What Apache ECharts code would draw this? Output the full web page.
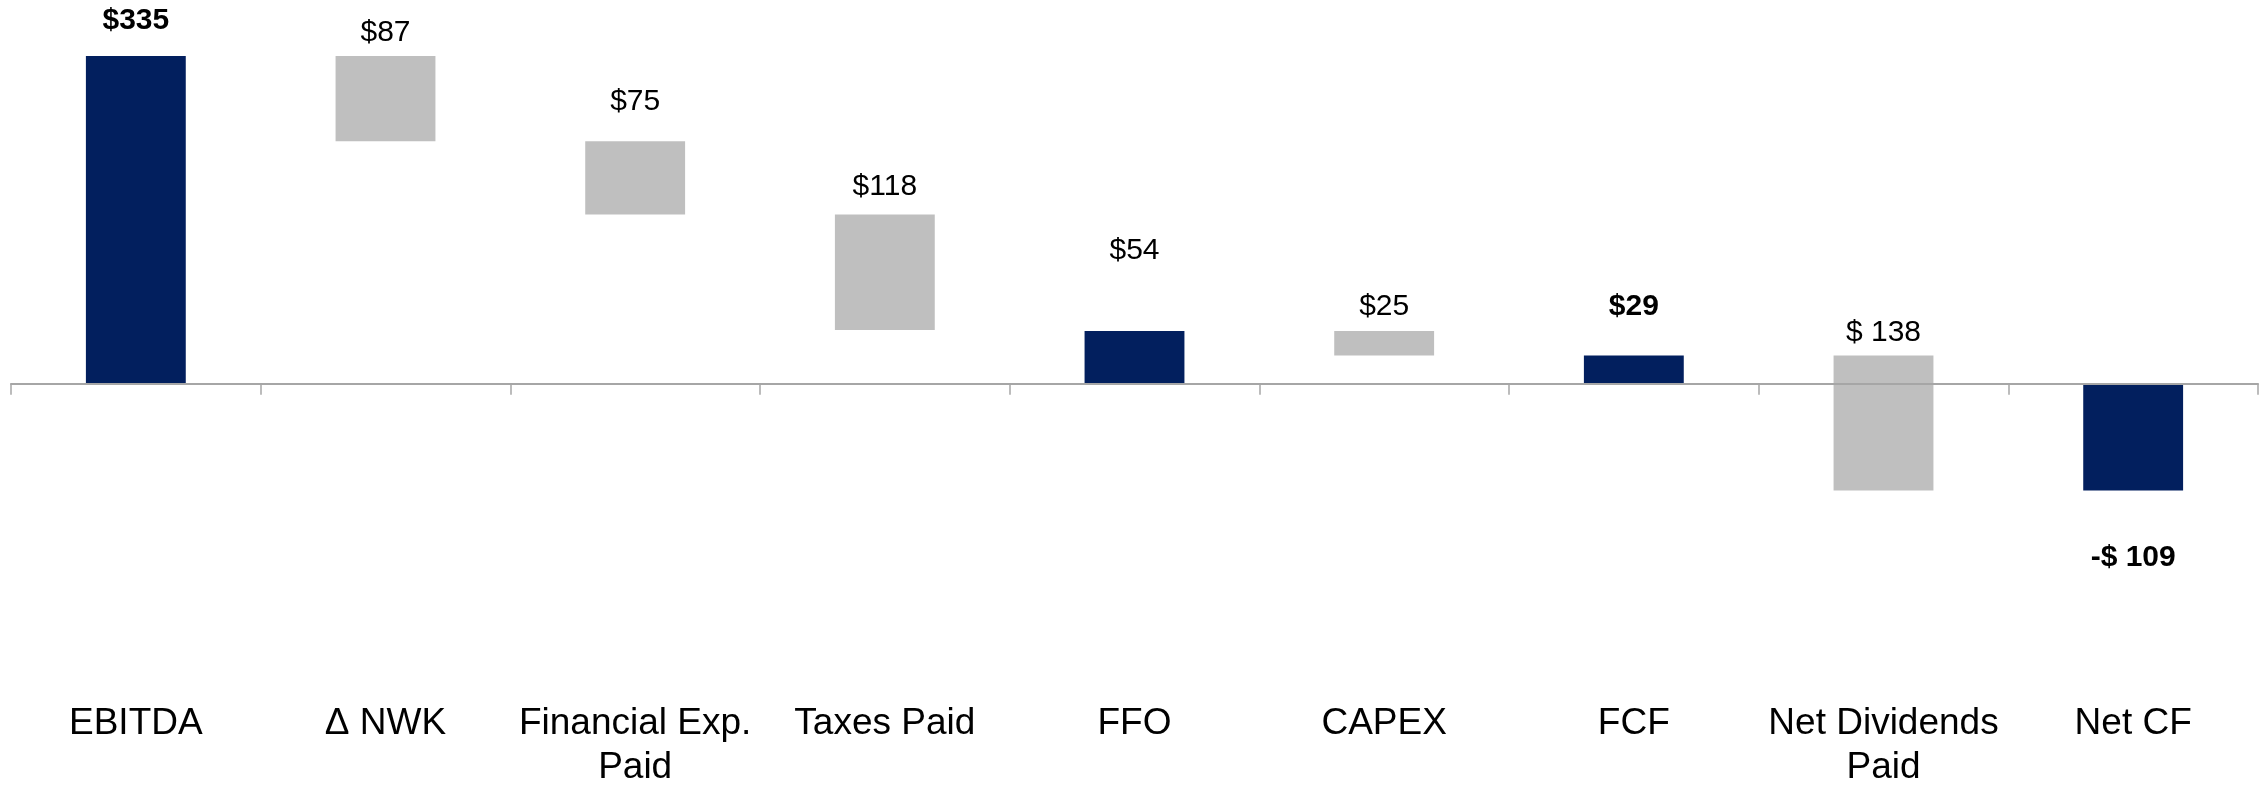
<!DOCTYPE html>
<html>
<head>
<meta charset="utf-8">
<script src="https://cdn.jsdelivr.net/npm/echarts@6/dist/echarts.min.js"></script>
<style>
html,body{margin:0;padding:0;background:#fff;}
#chart{width:2262px;height:785px;}
</style>
</head>
<body>
<div id="chart"></div>
<script>
// data
var categories = ['EBITDA', 'Δ NWK', 'Financial Exp.\nPaid', 'Taxes Paid', 'FFO', 'CAPEX', 'FCF', 'Net Dividends\nPaid', 'Net CF'];
var values = [335, -87, -75, -118, 54, -25, 29, -138, -109];
var kinds = ['total', 'delta', 'delta', 'delta', 'total', 'delta', 'total', 'delta', 'total'];
var valueLabels = ['$335', '$87', '$75', '$118', '$54', '$25', '$29', '$ 138', '-$ 109'];

// label styling (not data)
var boldLabel = [true, false, false, false, false, false, true, false, true];
var labelGap = [35, 23, 39, 28, 80, 24, 49, 23, -67];

var navy = '#021F5E';
var grey = '#BFBFBF';

// build floating bars: [index, low, high]
var bars = [];
var run = 0;
for (var i = 0; i < values.length; i++) {
    var lo, hi;
    if (kinds[i] === 'total') {
        run = values[i];
        lo = Math.min(0, run); hi = Math.max(0, run);
    } else {
        var next = run + values[i];
        lo = Math.min(run, next); hi = Math.max(run, next);
        run = next;
    }
    bars.push([i, lo, hi]);
}

var myChart = echarts.init(document.getElementById('chart'));

var option = {
    animation: false,
    grid: { left: 11, right: 4, top: 56, bottom: 93, outerBoundsMode: 'none' },
    xAxis: [
        {
            type: 'category',
            data: categories,
            position: 'bottom',
            z: 5,
            axisLine: { onZero: true, lineStyle: { color: '#A6A6A6', width: 2 } },
            axisTick: { show: true, length: 11, lineStyle: { color: '#A6A6A6', width: 1.5 } },
            axisLabel: { show: false }
        },
        {
            type: 'category',
            data: categories,
            position: 'bottom',
            axisLine: { show: false, onZero: false },
            axisTick: { show: false },
            axisLabel: {
                interval: 0,
                hideOverlap: false,
                margin: 10,
                color: '#000',
                fontFamily: 'Liberation Sans, Arial, sans-serif',
                fontSize: 37,
                lineHeight: 44
            }
        }
    ],
    yAxis: {
        type: 'value',
        min: -315,
        max: 335,
        show: false,
        splitLine: { show: false }
    },
    series: [{
        type: 'custom',
        xAxisIndex: 0,
        encode: { x: 0, y: [1, 2] },
        data: bars,
        renderItem: function (params, api) {
            var idx = api.value(0);
            var top = api.coord([idx, api.value(2)]);
            var bot = api.coord([idx, api.value(1)]);
            var w = api.size([1, 0])[0] * 0.4;
            var gap = labelGap[idx];
            var ly = gap >= 0 ? top[1] - gap : bot[1] - gap;
            return {
                type: 'group',
                children: [
                    {
                        type: 'rect',
                        shape: { x: top[0] - w / 2, y: top[1], width: w, height: bot[1] - top[1] },
                        style: { fill: kinds[idx] === 'total' ? navy : grey }
                    },
                    {
                        type: 'text',
                        x: top[0],
                        y: ly,
                        style: {
                            text: valueLabels[idx],
                            fill: '#000',
                            font: (boldLabel[idx] ? 'bold ' : '') + '30px "Liberation Sans", Arial, sans-serif',
                            align: 'center',
                            verticalAlign: 'middle'
                        }
                    }
                ]
            };
        }
    }]
};

myChart.setOption(option);
</script>
</body>
</html>
